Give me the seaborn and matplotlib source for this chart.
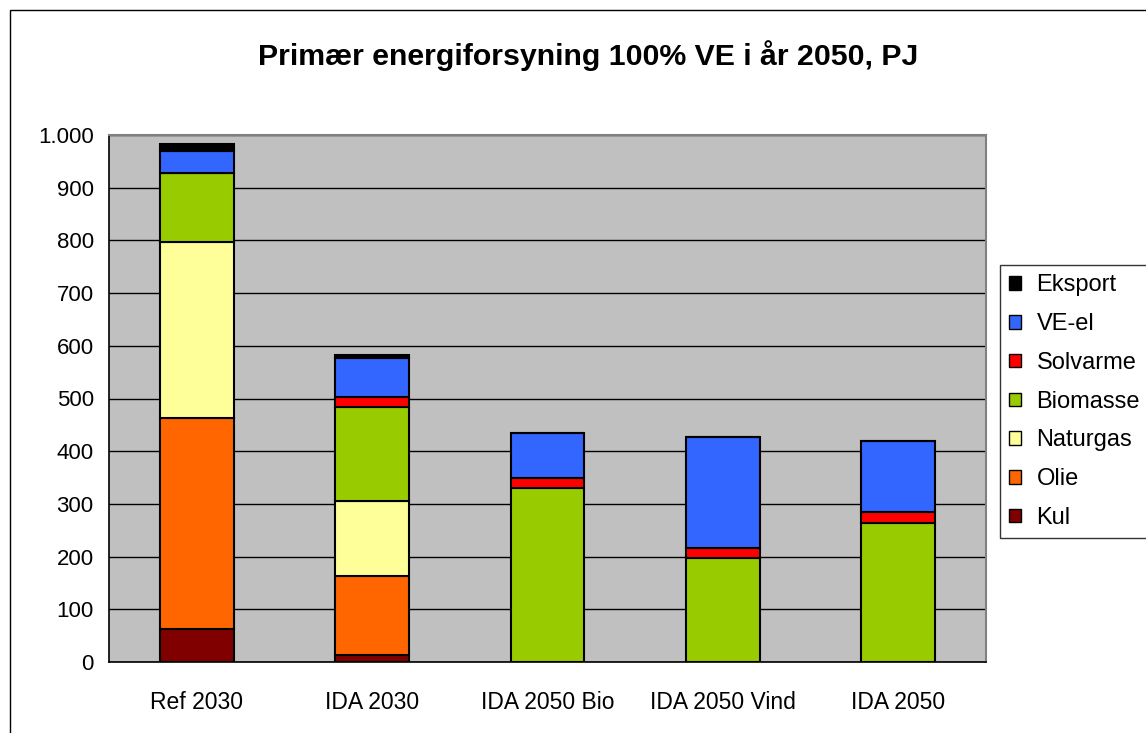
import numpy as np
import pandas as pd
import matplotlib
matplotlib.use("Agg")
import matplotlib.pyplot as plt
from matplotlib.patches import Patch, Rectangle
from matplotlib.ticker import FuncFormatter
import seaborn as sns

# data (PJ)
scenarios = ["Ref 2030", "IDA 2030", "IDA 2050 Bio", "IDA 2050 Vind", "IDA 2050"]
kul = [63, 13, 0, 0, 0]
olie = [400, 150, 0, 0, 0]
naturgas = [334, 143, 0, 0, 0]
biomasse = [131, 178, 331, 198, 264]
solvarme = [0, 18, 19, 19, 20]
ve_el = [42, 75, 85, 210, 136]
eksport = [12, 5, 0, 0, 0]

layers = ["Kul", "Olie", "Naturgas", "Biomasse", "Solvarme", "VE-el", "Eksport"]
colors = ["#800000", "#FF6600", "#FFFF99", "#99CC00", "#FF0000", "#3366FF", "#000000"]

df = pd.DataFrame({"scenario": scenarios, "Kul": kul, "Olie": olie,
                   "Naturgas": naturgas, "Biomasse": biomasse,
                   "Solvarme": solvarme, "VE-el": ve_el, "Eksport": eksport})

sns.set_style("white")
plt.rcParams["font.family"] = ["Liberation Sans", "DejaVu Sans"]
plt.rcParams["text.color"] = "black"
plt.rcParams["xtick.color"] = "black"
plt.rcParams["ytick.color"] = "black"

fig = plt.figure(figsize=(11.46, 7.33), dpi=100)
ax = fig.add_axes([109 / 1146, 71 / 733, 877 / 1146, 527 / 733])
ax.set_facecolor("#C0C0C0")

# stacked bars, one seaborn call per layer
bottom = np.zeros(len(scenarios))
for name, col in zip(layers, colors):
    vals = df[name].to_numpy()
    sns.barplot(data=df, x="scenario", y=name, bottom=bottom, color=col,
                width=0.42, edgecolor="black", linewidth=1.5, ax=ax,
                saturation=1, zorder=3)
    bottom = bottom + vals

ax.set_ylim(0, 1000)
ax.set_xlim(-0.5, len(scenarios) - 0.5)
ax.set_yticks(np.arange(0, 1001, 100))
ax.yaxis.set_major_formatter(FuncFormatter(lambda v, p: f"{int(v):,}".replace(",", ".")))
ax.grid(axis="y", color="black", linewidth=1, zorder=1)
ax.set_axisbelow(True)
ax.set_xlabel("")
ax.set_ylabel("")

ax.set_xticks(np.arange(len(scenarios)))
ax.set_xticklabels(scenarios)
ax.set_xticks(np.arange(len(scenarios) + 1) - 0.5, minor=True)
ax.tick_params(axis="x", which="major", length=0, pad=21, labelsize=16.5)
ax.tick_params(axis="x", which="minor", length=6, width=1, color="black", direction="out")
ax.tick_params(axis="y", length=6, width=1, color="black", direction="out", labelsize=16, pad=5)

for s in ["left", "bottom"]:
    ax.spines[s].set_color("black")
    ax.spines[s].set_linewidth(1.2)
for s in ["top", "right"]:
    ax.spines[s].set_color("#808080")
    ax.spines[s].set_linewidth(1.5)

fig.suptitle("Primær energiforsyning 100% VE i år 2050, PJ", x=588 / 1146, y=1 - 56 / 733,
             fontsize=21.8, fontweight="bold", va="center")

handles = [Patch(facecolor=c, edgecolor="black", linewidth=1, label=n)
           for n, c in zip(layers[::-1], colors[::-1])]
leg = fig.legend(handles=handles, loc="upper left", bbox_to_anchor=(1000 / 1146, 1 - 265 / 733),
                 frameon=True, fancybox=False, edgecolor="black", fontsize=17,
                 handlelength=0.5, handleheight=0.5, handletextpad=0.65,
                 labelspacing=0.71, borderpad=0.4, borderaxespad=0)
leg.get_frame().set_linewidth(1)

# outer chart border
fig.patches.append(Rectangle((10 / 1146, -0.05), 1.2, 1 - 10 / 733 + 0.05,
                             transform=fig.transFigure, fill=False,
                             edgecolor="black", linewidth=1))

fig.savefig("out.png", dpi=100)
